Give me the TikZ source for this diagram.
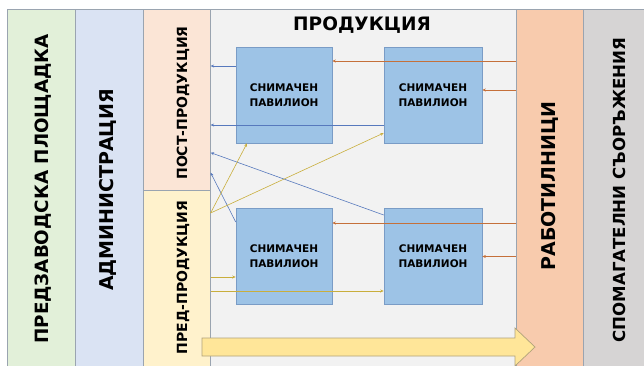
\documentclass[tikz,border=0pt]{standalone}
\usepackage{fontspec}
\setmainfont{DejaVu Sans}
\usepackage{tikz}
\usetikzlibrary{positioning}
\usetikzlibrary{calc}
\usetikzlibrary{arrows.meta}
\definecolor{sitefill}{HTML}{E2F0D9}
\definecolor{adminfill}{HTML}{DAE3F3}
\definecolor{postfill}{HTML}{FBE5D6}
\definecolor{prefill}{HTML}{FFF2CC}
\definecolor{prodfill}{HTML}{F2F2F2}
\definecolor{shopfill}{HTML}{F8CBAD}
\definecolor{auxfill}{HTML}{D6D4D4}
\definecolor{colline}{HTML}{9AA4B0}
\definecolor{pavfill}{HTML}{9DC3E6}
\definecolor{pavline}{HTML}{7A9CC6}
\definecolor{blueline}{HTML}{5779BD}
\definecolor{orangeline}{HTML}{C5703A}
\definecolor{yellowline}{HTML}{C9AE3C}
\definecolor{bigfill}{HTML}{FFE699}
\definecolor{bigline}{HTML}{B0A27A}
\tikzset{%
  col/.style = {rectangle,draw=colline,line width=0.6pt,anchor=north west,
        inner sep=0pt},
  pav/.style = {rectangle,draw=pavline,fill=pavfill,line width=0.6pt,
        minimum width=96pt,minimum height=96pt,align=center,
        font=\bfseries\fontsize{10.5}{15}\selectfont},
  vlabel/.style = {rotate=90,font=\bfseries\fontsize{19}{22}\selectfont},
  slabel/.style = {rotate=90,font=\bfseries\fontsize{14}{16}\selectfont},
  bluearrow/.style = {-{Stealth[length=3.5pt,width=3pt]},draw=blueline,
        line width=0.6pt},
  orangearrow/.style = {-{Stealth[length=3.5pt,width=3pt]},draw=orangeline,
        line width=0.6pt},
  yellowarrow/.style = {-{Stealth[length=3.5pt,width=3pt]},draw=yellowline,
        line width=0.6pt},
  bigarrow/.style = {draw=bigline,fill=bigfill,line width=0.7pt}
}
\begin{document}
\begin{tikzpicture}[x=1pt,y=-1pt]
\useasboundingbox (0,0) rectangle (644,365);
\fill[white] (0,0) rectangle (644,365);
\begin{scope}
\clip (0,0) rectangle (644,365);
% zones
\node[col,fill=sitefill,minimum width=68pt,minimum height=362pt] (site) at (7,9) {};
\node[col,fill=adminfill,minimum width=68pt,minimum height=362pt] (admin) at (75,9) {};
\node[col,fill=postfill,minimum width=67pt,minimum height=181pt] (post) at (143,9) {};
\node[col,fill=prefill,minimum width=67pt,minimum height=181pt] (pre) at (143,190) {};
\node[col,fill=prodfill,minimum width=306pt,minimum height=362pt] (prod) at (210,9) {};
\node[col,fill=shopfill,minimum width=67pt,minimum height=362pt] (shops) at (516,9) {};
\node[col,fill=auxfill,minimum width=70pt,minimum height=362pt] (aux) at (583,9) {};
% flow arrow
\draw[bigarrow] (202,338) -- (515,338) -- (515,328) -- (535,347) -- (515,366)
    -- (515,356) -- (202,356) -- cycle;
\end{scope}
% labels
\node[vlabel,font=\bfseries\fontsize{18.3}{22}\selectfont] (sitetxt) at (43,189) {ПРЕДЗАВОДСКА ПЛОЩАДКА};
\node[vlabel] (admintxt) at (108,190) {АДМИНИСТРАЦИЯ};
\node[slabel] (posttxt) at (183,103) {ПОСТ-ПРОДУКЦИЯ};
\node[slabel] (pretxt) at (183,277.5) {ПРЕД-ПРОДУКЦИЯ};
\node[font=\bfseries\fontsize{18.5}{20}\selectfont] (prodtxt) at (362,25) {ПРОДУКЦИЯ};
\node[vlabel] (shopstxt) at (550,186) {РАБОТИЛНИЦИ};
\node[vlabel,font=\bfseries\fontsize{16.6}{22}\selectfont] (auxtxt) at (619,190) {СПОМАГАТЕЛНИ СЪОРЪЖЕНИЯ};
% stages
\node[pav] (pav1) at (284,95) {СНИМАЧЕН\\ПАВИЛИОН};
\node[pav,minimum width=98pt] (pav2) at (433,95) {СНИМАЧЕН\\ПАВИЛИОН};
\node[pav] (pav3) at (284,256.5) {СНИМАЧЕН\\ПАВИЛИОН};
\node[pav,minimum width=98pt] (pav4) at (433,256.5) {СНИМАЧЕН\\ПАВИЛИОН};
% to post-production
\draw[bluearrow] ([yshift=29pt]pav1.west) -- ([yshift=29pt]pav1.west -| post.east);
\draw[bluearrow] ([yshift=-30pt]pav2.west) -- ([yshift=-30pt]pav2.west -| post.east);
\draw[bluearrow] ([yshift=41.5pt]pav4.west) -- ([yshift=38pt]post.south east);
\draw[bluearrow] ([yshift=34.5pt]pav3.west) -- ([yshift=18pt]post.south east);
% from pre-production
\draw[yellowarrow] ([yshift=-23pt]pre.north east) -- ([xshift=-37pt]pav1.south);
\draw[yellowarrow] ([yshift=-23pt]pre.north east) -- ([yshift=-38pt]pav2.west);
\draw[yellowarrow] ([yshift=-20.5pt]pav3.west -| pre.east) -- ([yshift=-20.5pt]pav3.west);
\draw[yellowarrow] ([yshift=-34.5pt]pav4.west -| pre.east) -- ([yshift=-34.5pt]pav4.west);
% from workshops
\draw[orangearrow] ([yshift=34pt]pav1.east -| shops.west) -- ([yshift=34pt]pav1.east);
\draw[orangearrow] ([yshift=5pt]pav2.east -| shops.west) -- ([yshift=5pt]pav2.east);
\draw[orangearrow] ([yshift=33.5pt]pav3.east -| shops.west) -- ([yshift=33.5pt]pav3.east);
\draw[orangearrow] (pav4.east -| shops.west) -- (pav4.east);
\end{tikzpicture}
\end{document}
